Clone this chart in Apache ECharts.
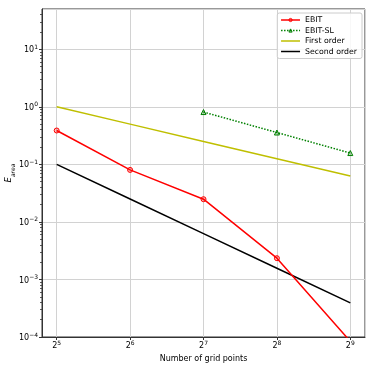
<!DOCTYPE html>
<html>
<head>
<meta charset="utf-8">
<script src="https://cdn.jsdelivr.net/npm/echarts@6/dist/echarts.min.js"></script>
<style>
  html, body { margin: 0; padding: 0; background: #fff; }
  #chart { width: 374px; height: 374px; }
</style>
</head>
<body>
<div id="chart"></div>
<script>
// values
const gridPoints = [32, 64, 128, 256, 512]
const ebit = [0.387, 0.080, 0.0248, 0.00234, 0.000084]
const ebitSlPoints = [128, 256, 512]
const ebitSl = [0.81, 0.357, 0.157]
const firstOrder = [1, 0.5, 0.25, 0.125, 0.0625]
const secondOrder = [0.1, 0.025, 0.00625, 0.0015625, 0.000390625]

const xMin = Math.pow(2, 4.8)
const xMax = Math.pow(2, 9.2)
const yMin = 1e-4
const yMax = 50

// minor ticks on the log y axis (2..9 x 10^k)
const yMinorTicks = []
for (let k = -4; k <= 1; k++) {
  for (let m = 2; m <= 9; m++) {
    const v = m * Math.pow(10, k)
    if (v < yMax) yMinorTicks.push(v)
  }
}

const font = 'DejaVu Sans'
const pairs = (xs, ys) => xs.map((x, i) => [x, ys[i]])
const power = (base, exp) => '{b|' + base + '}{p|' + String(exp).replace('-', '−') + '}'

const powRich = {
  b: { fontFamily: font, fontSize: 8, lineHeight: 10, verticalAlign: 'bottom', color: '#000' },
  p: { fontFamily: font, fontSize: 6, lineHeight: 7, verticalAlign: 'top', color: '#000' },
}

const chart = echarts.init(document.getElementById('chart'), null, { renderer: 'canvas' })

chart.setOption({
  backgroundColor: '#fff',
  animation: false,
  textStyle: { fontFamily: font },
  grid: {
    left: 42, right: 9, top: 9, bottom: 37,
    outerBoundsMode: 'none',
    containLabel: false,
    show: true, borderColor: '#333', borderWidth: 1, backgroundColor: 'transparent',
  },
  legend: {
    data: [
      { name: 'EBIT', itemStyle: { color: 'rgba(255,0,0,0.25)', borderColor: '#ff0000', borderWidth: 1 } },
      { name: 'EBIT-SL', itemStyle: { color: 'rgba(0,128,0,0.25)', borderColor: '#008000', borderWidth: 1 } },
      { name: 'First order', itemStyle: { opacity: 0 } },
      { name: 'Second order', itemStyle: { opacity: 0 } },
    ],
    orient: 'vertical',
    right: 12,
    top: 13,
    itemWidth: 19,
    itemHeight: 4,
    itemGap: 2.5,
    padding: [3, 5, 3, 3],
    borderColor: '#ccc',
    borderWidth: 1,
    borderRadius: 2,
    backgroundColor: 'rgba(255,255,255,0.85)',
    lineStyle: { width: 1.5 },
    textStyle: { fontFamily: font, fontSize: 7.8, color: '#000' },
  },
  xAxis: {
    type: 'log',
    logBase: 2,
    min: xMin,
    max: xMax,
    name: 'Number of grid points',
    nameLocation: 'middle',
    nameGap: 18,
    nameMoveOverlap: false,
    nameTextStyle: { fontFamily: font, fontSize: 8, color: '#000' },
    axisLine: { lineStyle: { color: '#333', width: 1 } },
    axisTick: { length: 3, lineStyle: { color: '#333' } },
    axisLabel: {
      showMinLabel: false, showMaxLabel: false,
      margin: 3,
      rich: powRich,
      formatter: (v) => power(2, Math.round(Math.log2(v))),
    },
    splitLine: { show: true, lineStyle: { color: '#d2d2d2', width: 1 } },
  },
  yAxis: [
    {
      type: 'log',
      logBase: 10,
      min: yMin,
      max: yMax,
      name: '{e|E}{s|area}',
      nameLocation: 'middle',
      nameGap: 26,
      nameMoveOverlap: false,
      nameTextStyle: {
        rich: {
          e: { fontFamily: font, fontStyle: 'italic', fontSize: 8.5, lineHeight: 12, verticalAlign: 'top', color: '#000' },
          s: { fontFamily: font, fontStyle: 'italic', fontSize: 6, lineHeight: 6, verticalAlign: 'bottom', color: '#000' },
        },
      },
      axisLine: { lineStyle: { color: '#333', width: 1 } },
      axisTick: { length: 3, lineStyle: { color: '#333' } },
      axisLabel: {
        showMaxLabel: false,
        margin: 4,
        rich: powRich,
        formatter: (v) => power(10, Math.round(Math.log10(v))),
      },
      splitLine: { show: true, lineStyle: { color: '#d2d2d2', width: 1 } },
    },
    {
      type: 'log',
      logBase: 10,
      min: yMin,
      max: yMax,
      position: 'left',
      axisLine: { show: false },
      axisLabel: { show: false },
      splitLine: { show: false },
      axisTick: { show: true, length: 2, customValues: yMinorTicks, lineStyle: { color: '#333', width: 0.8 } },
    },
  ],
  series: [
    {
      name: 'EBIT',
      type: 'line',
      data: pairs(gridPoints, ebit),
      symbol: 'circle',
      symbolSize: 5,
      lineStyle: { color: '#ff0000', width: 1.5 },
      itemStyle: { color: 'rgba(255,0,0,0.25)', borderColor: '#ff0000', borderWidth: 1 },
      z: 4,
    },
    {
      name: 'EBIT-SL',
      type: 'line',
      data: pairs(ebitSlPoints, ebitSl),
      symbol: 'triangle',
      symbolSize: 5,
      lineStyle: { color: '#008000', width: 1.5, type: 'dotted' },
      itemStyle: { color: 'rgba(0,128,0,0.25)', borderColor: '#008000', borderWidth: 1 },
      z: 4,
    },
    {
      name: 'First order',
      type: 'line',
      data: pairs(gridPoints, firstOrder),
      symbol: 'none',
      lineStyle: { color: '#bfbf00', width: 1.5 },
      itemStyle: { color: '#bfbf00' },
    },
    {
      name: 'Second order',
      type: 'line',
      data: pairs(gridPoints, secondOrder),
      symbol: 'none',
      lineStyle: { color: '#000000', width: 1.5 },
      itemStyle: { color: '#000000' },
    },
  ],
})
</script>
</body>
</html>
